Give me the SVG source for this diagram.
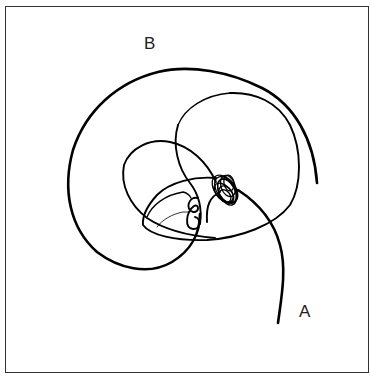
<svg xmlns="http://www.w3.org/2000/svg" width="370" height="376" viewBox="0 0 370 376">
<style>
.frame{fill:#fff;stroke:#333;stroke-width:1}
.c{fill:none;stroke:#000;stroke-linecap:round;stroke-linejoin:round}
.w3{stroke-width:2.6}
.w2{stroke-width:1.9}
.w1{stroke-width:1.3}
.w0{stroke-width:0.8}
.lbl{font-family:"Liberation Sans",Arial,sans-serif;font-size:17px;fill:#222}
</style>
<rect class="frame" x="5.5" y="6.5" width="363" height="366"/>
<g id="trajectory">
<path class="c w3" d="M278,323 C281,300 287,270 280,245 C274,222 258,203 238,190"/>
<path class="c w3" d="M317,183 C314,140 295,105 262,88 C230,72 190,64 158,72 C118,82 86,110 73,150 C62,190 70,228 97,252 C118,268 148,276 172,262 C192,250 200,232 200,214"/>
<path class="c w2" d="M216,178 C195,176 170,182 157,195 C148,205 142,215 143,225 C150,235 175,241 207,240 C240,238 275,225 290,205 C302,185 302,150 290,125 C278,102 255,92 230,93"/>
<path class="c w1" d="M230,93 C205,95 185,108 178,125"/>
<path class="c w2" d="M178,125 C172,145 178,168 190,183 C200,196 202,210 200,224"/>
<path class="c w2" d="M216,182 C207,162 190,146 170,142 C150,138 130,148 124,165 C120,185 130,205 147,218 C165,230 190,236 215,238"/>
<path class="c w1" d="M147,217 C152,205 165,195 183,192 C188,193 190,196 191,198"/>
<path class="c w0" d="M157,227 C162,220 172,214 183,212 L190,212"/>
<path class="c w2" d="M198,198 C188,196 185,210 193,212 C200,213 199,203 194,206 C186,212 184,228 193,229 C201,230 201,218 195,217"/>
<path class="c w2" d="M220,192 C210,197 206,205 207,222"/>
<g class="c w1">
<ellipse cx="226" cy="190" rx="9" ry="15" transform="rotate(-35 226 190)"/>
<ellipse cx="227" cy="191" rx="8" ry="13" transform="rotate(-30 227 191)"/>
<ellipse cx="225" cy="189" rx="10" ry="16" transform="rotate(-40 225 189)"/>
<ellipse cx="228" cy="186" rx="7" ry="11" transform="rotate(-20 228 186)"/>
<ellipse cx="224" cy="193" rx="7" ry="12" transform="rotate(-45 224 193)"/>
<ellipse cx="226" cy="194" rx="6" ry="9" transform="rotate(-35 226 194)"/>
<ellipse cx="229" cy="183" rx="5" ry="8" transform="rotate(-10 229 183)"/>
<ellipse cx="225" cy="196" rx="5" ry="7" transform="rotate(-40 225 196)"/>
<ellipse cx="227" cy="192" rx="8" ry="14" transform="rotate(-25 227 192)"/>
</g>
</g>
<g id="B"><text class="lbl" x="144" y="49">B</text></g>
<g id="A"><text class="lbl" x="299" y="317">A</text></g>
</svg>
